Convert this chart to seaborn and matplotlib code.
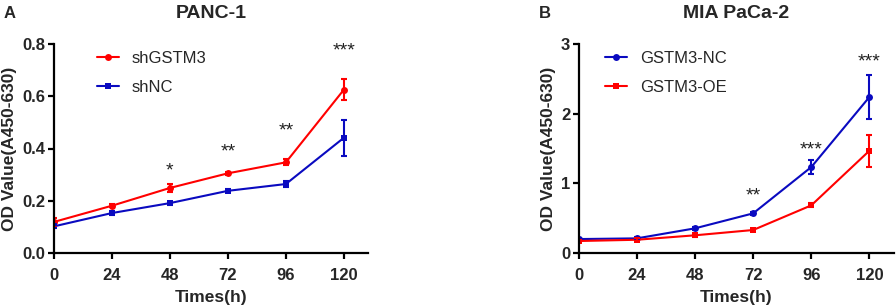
import matplotlib
matplotlib.use("Agg")
import matplotlib.pyplot as plt
import seaborn as sns
import pandas as pd

# ---- data ----
times = [0, 24, 48, 72, 96, 120]

# Panel A: PANC-1
a_shGSTM3 = [0.119, 0.181, 0.249, 0.305, 0.347, 0.625]
a_shGSTM3_err = [0.015, 0.006, 0.015, 0.006, 0.012, 0.041]
a_shNC = [0.102, 0.153, 0.191, 0.238, 0.264, 0.441]
a_shNC_err = [0.006, 0.008, 0.006, 0.006, 0.012, 0.069]
a_star_labels = ["*", "**", "**", "***"]
a_star_x = [48, 72, 96, 120]
a_star_y = [0.329, 0.402, 0.483, 0.789]

# Panel B: MIA PaCa-2
b_nc = [0.20, 0.21, 0.354, 0.569, 1.234, 2.24]
b_nc_err = [0.02, 0.02, 0.02, 0.02, 0.095, 0.31]
b_oe = [0.172, 0.19, 0.254, 0.33, 0.684, 1.469]
b_oe_err = [0.02, 0.02, 0.02, 0.02, 0.03, 0.23]
b_star_labels = ["**", "***", "***"]
b_star_x = [72, 96, 120]
b_star_y = [0.876, 1.536, 2.80]

RED = "#ff0000"
BLUE = "#0a0ac0"

sns.set_style("ticks")
plt.rcParams["font.family"] = ["Liberation Sans", "DejaVu Sans"]

fig = plt.figure(figsize=(8.96, 3.07), dpi=100)
axA = fig.add_axes([54 / 896, 1 - 253 / 307, 314 / 896, 209 / 307])
axB = fig.add_axes([578.7 / 896, 1 - 253 / 307, 315 / 896, 209 / 307])


def panel(ax, s1, e1, n1, c1, m1, s2, e2, n2, c2, m2, ylim, yticks, yticklabels,
          star_x, star_y, star_labels, title, letter, letter_x, leg_x):
    df = pd.DataFrame({
        "Time": times * 2,
        "OD": s1 + s2,
        "Group": [n1] * len(times) + [n2] * len(times),
    })
    sns.lineplot(data=df, x="Time", y="OD", hue="Group", style="Group",
                 palette={n1: c1, n2: c2}, markers={n1: m1, n2: m2},
                 dashes=False, linewidth=1.5, markersize=5.0,
                 markeredgewidth=0, ax=ax, legend=True)
    ax.errorbar(times, s1, yerr=e1, fmt="none", ecolor=c1, elinewidth=1.5,
                capsize=2.5, capthick=1.5)
    ax.errorbar(times, s2, yerr=e2, fmt="none", ecolor=c2, elinewidth=1.5,
                capsize=2.5, capthick=1.5)
    for x, y, t in zip(star_x, star_y, star_labels):
        ax.annotate(t, xy=(x, y), xytext=(0, -6), textcoords="offset points",
                    ha="center", va="baseline", fontsize=14, color="#222222")
    ax.set_xlim(0, 130)
    ax.set_ylim(*ylim)
    ax.set_xticks(times)
    ax.set_xticklabels([str(t) for t in times], fontweight="bold", fontsize=12)
    ax.set_yticks(yticks)
    ax.set_yticklabels(yticklabels, fontweight="bold", fontsize=12)
    ax.set_xlabel("Times(h)", fontweight="bold", fontsize=12.5, labelpad=5)
    ax.set_ylabel("OD Value(A450-630)", fontweight="bold", fontsize=12.5, labelpad=4)
    for sp in ["top", "right"]:
        ax.spines[sp].set_visible(False)
    for sp in ["left", "bottom"]:
        ax.spines[sp].set_linewidth(1.6)
        ax.spines[sp].set_color("black")
    ax.tick_params(axis="both", direction="out", length=4, width=1.6,
                   color="black")
    ax.tick_params(axis="x", pad=7)
    ax.tick_params(axis="y", pad=2)
    ax.set_title(title, fontweight="bold", fontsize=14, pad=19)
    ax.legend(loc="upper left", bbox_to_anchor=(leg_x, 0.966), frameon=False,
              fontsize=12, handlelength=1.3, handletextpad=0.8,
              labelspacing=0.85, borderpad=0, borderaxespad=0)
    ax.figure.text(letter_x, 1 - 13 / 307, letter, fontweight="bold", fontsize=12,
                   va="center", ha="left")


panel(axA, a_shGSTM3, a_shGSTM3_err, "shGSTM3", RED, "o",
      a_shNC, a_shNC_err, "shNC", BLUE, "s",
      (0, 0.8), [0.0, 0.2, 0.4, 0.6, 0.8], ["0.0", "0.2", "0.4", "0.6", "0.8"],
      a_star_x, a_star_y, a_star_labels, "PANC-1", "A", 4 / 896, 0.137)
panel(axB, b_nc, b_nc_err, "GSTM3-NC", BLUE, "o",
      b_oe, b_oe_err, "GSTM3-OE", RED, "s",
      (0, 3), [0, 1, 2, 3], ["0", "1", "2", "3"],
      b_star_x, b_star_y, b_star_labels, "MIA PaCa-2", "B", 539 / 896, 0.083)

fig.savefig("out.png", dpi=100)
